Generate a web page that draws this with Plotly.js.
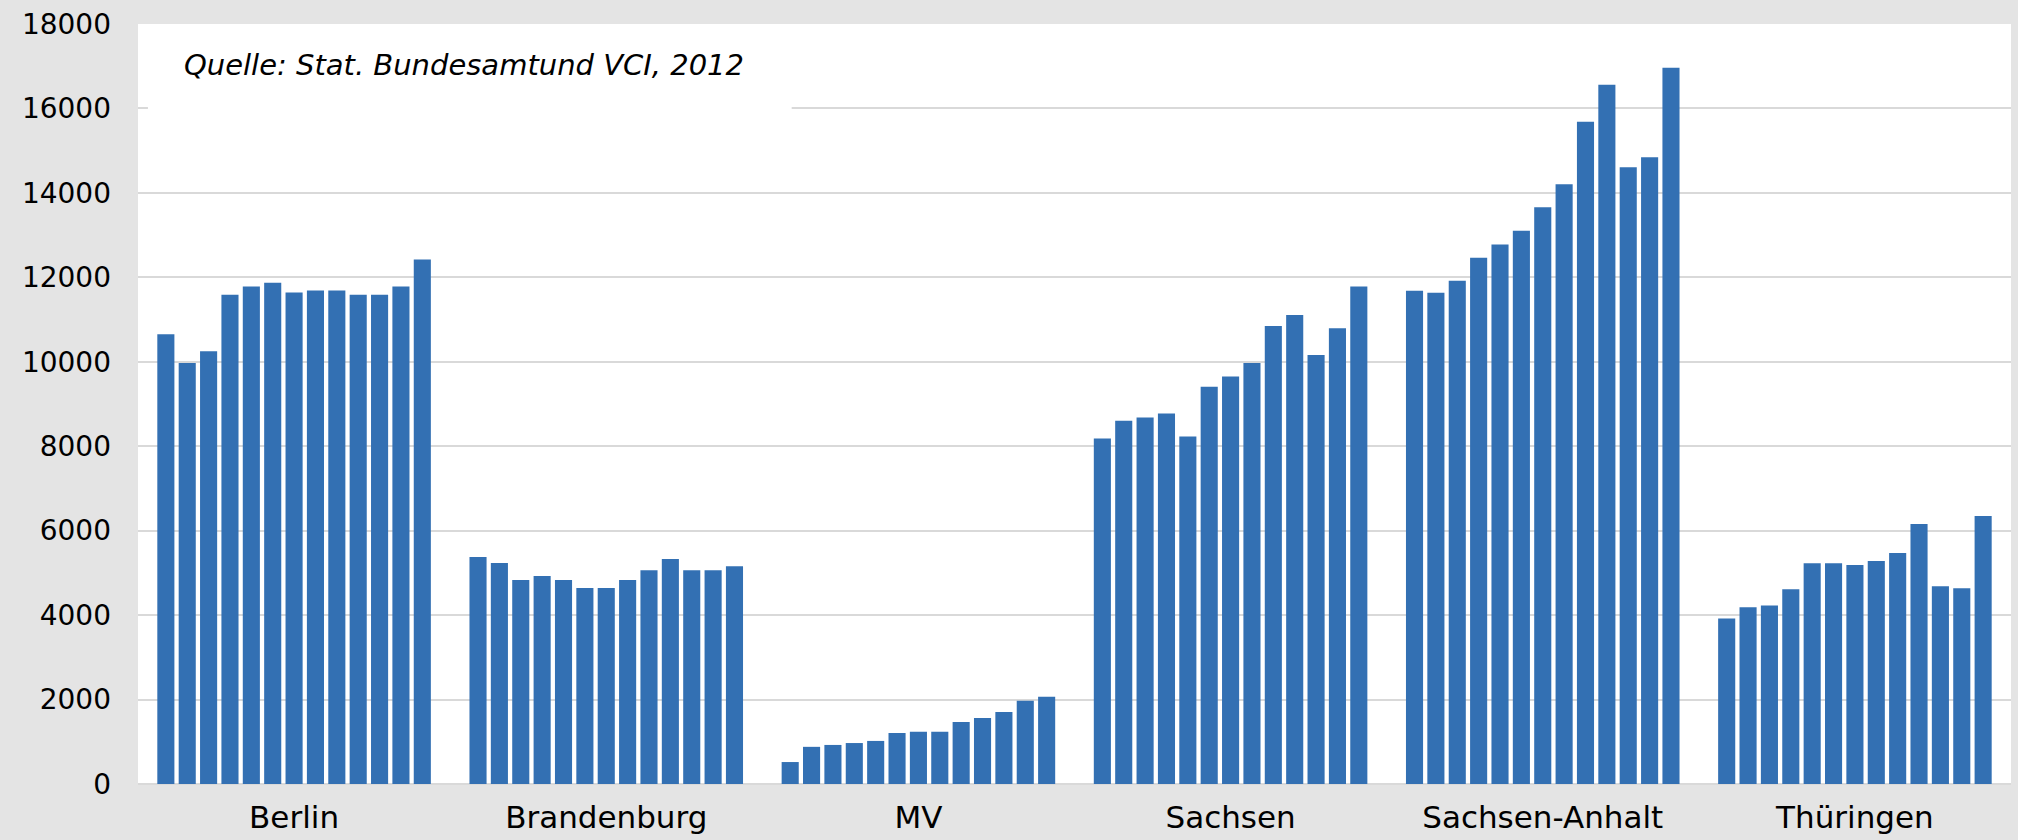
<!DOCTYPE html>
<html>
<head>
<meta charset="utf-8">
<script src="https://cdn.plot.ly/plotly-3.0.1.min.js"></script>
<style>
  html, body { margin: 0; padding: 0; background: #e4e4e4; }
  #chart { width: 2018px; height: 840px; }
</style>
</head>
<body>
<div id="chart"></div>
<script>
// Categories (Bundesländer)
const categories = ["Berlin", "Brandenburg", "MV", "Sachsen", "Sachsen-Anhalt", "Thüringen"];
// Series names (one bar per year in each group)
const years = ["2000", "2001", "2002", "2003", "2004", "2005", "2006", "2007", "2008", "2009", "2010", "2011", "2012"];

// Values per category
const berlin        = [10650, 9970, 10250, 11590, 11780, 11870, 11640, 11690, 11690, 11590, 11590, 11780, 12420];
const brandenburg   = [5375, 5235, 4830, 4925, 4830, 4640, 4640, 4830, 5065, 5330, 5065, 5065, 5160];
const mv            = [520, 880, 925, 970, 1020, 1210, 1235, 1235, 1470, 1565, 1705, 1970, 2065];
const sachsen       = [8180, 8605, 8680, 8775, 8230, 9410, 9650, 9970, 10845, 11105, 10160, 10795, 11780];
const sachsenAnhalt = [11685, 11635, 11920, 12465, 12775, 13105, 13660, 14205, 15685, 16560, 14610, 14845, 16965];
const thueringen    = [3920, 4185, 4230, 4610, 5230, 5230, 5185, 5280, 5470, 6160, 4685, 4635, 6350];

const yTicks = [0, 2000, 4000, 6000, 8000, 10000, 12000, 14000, 16000, 18000];
const sourceText = "Quelle: Stat. Bundesamtund VCI, 2012";

const groups = [berlin, brandenburg, mv, sachsen, sachsenAnhalt, thueringen];
const barColor = "#3370b3";

const traces = years.map((yr, i) => ({
  type: "bar",
  name: yr,
  x: categories,
  y: groups.map(g => g[i]),
  marker: { color: barColor, line: { width: 0 } },
  showlegend: false,
  hoverinfo: "x+y+name"
}));

const layout = {
  width: 2018,
  height: 840,
  paper_bgcolor: "#e4e4e4",
  plot_bgcolor: "#ffffff",
  margin: { l: 138, r: 7, t: 24, b: 56, pad: 0 },
  barmode: "group",
  bargap: 0.11,
  bargroupgap: 0.2,
  font: { family: "DejaVu Sans", color: "#000000" },
  xaxis: {
    type: "category",
    showgrid: false,
    showline: false,
    zeroline: false,
    ticks: "",
    tickfont: { family: "DejaVu Sans", size: 31, color: "#000000" },
    ticklabelstandoff: 12
  },
  yaxis: {
    range: [0, 18000],
    tickvals: yTicks,
    ticktext: yTicks.map(String),
    showgrid: true,
    gridcolor: "#d9d9d9",
    gridwidth: 2,
    zeroline: true,
    zerolinecolor: "#d9d9d9",
    zerolinewidth: 2,
    showline: false,
    ticks: "",
    tickfont: { family: "DejaVu Sans", size: 28, color: "#000000" },
    ticklabelstandoff: 26
  },
  shapes: [{
    type: "rect",
    xref: "paper", yref: "paper",
    x0: 0.0053, x1: 0.349, y0: 0.866, y1: 0.9954,
    fillcolor: "#ffffff",
    line: { width: 0 },
    layer: "above"
  }],
  annotations: [{
    xref: "paper", yref: "paper",
    x: 0.024, y: 0.946,
    xanchor: "left", yanchor: "middle",
    text: "<i>" + sourceText + "</i>",
    showarrow: false,
    borderpad: 0,
    font: { family: "DejaVu Sans", size: 29, color: "#000000" }
  }]
};

Plotly.newPlot("chart", traces, layout, { displayModeBar: false, staticPlot: true });
</script>
</body>
</html>
